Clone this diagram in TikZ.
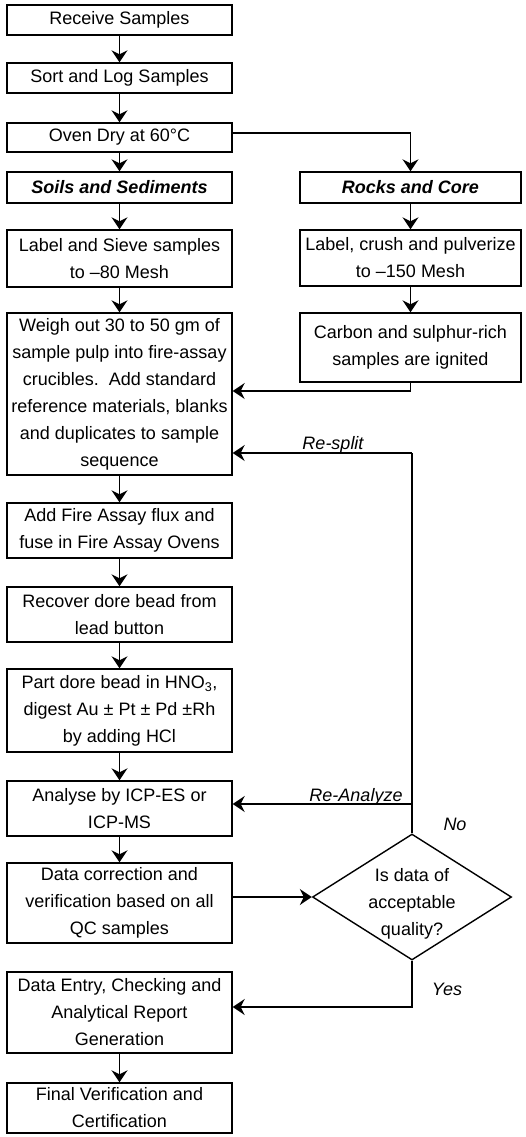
\documentclass[tikz,border=0pt]{standalone}
\usepackage{fontspec}
\setmainfont{Liberation Sans}
\usetikzlibrary{arrows.meta,shapes.geometric}
\newcommand\fs{\fontsize{18}{27}\selectfont}
\tikzset{
  box/.style={draw, line width=1.4pt, inner sep=0pt, minimum width=225pt, align=center, font=\fs},
  rbox/.style={box, minimum width=221pt},
  arr/.style={line width=1.7pt, -{Stealth[length=12pt,width=16pt,inset=4pt]}},
  ln/.style={line width=1.7pt},
  lbl/.style={font=\fs\itshape, inner sep=0pt}
}
\begin{document}
\begin{tikzpicture}[x=1pt,y=-1pt]
\useasboundingbox (0,0) rectangle (526,1137);
% left column
\node[box, minimum height=30pt] (b1) at (119.5,20) {Receive Samples};
\node[box, minimum height=30pt] (b2) at (119.5,78) {Sort and Log Samples};
\node[box, minimum height=29pt] (b3) at (119.5,137.5) {Oven Dry at 60°C};
\node[box, minimum height=31pt, font=\fs\bfseries\itshape] (b4) at (119.5,187.5) {Soils and Sediments};
\node[box, minimum height=57pt] (b5) at (119.5,258.5) {Label and Sieve samples\\to –80 Mesh};
\node[box, minimum height=162pt] (b6) at (119.5,394) {Weigh out 30 to 50 gm of\\sample pulp into fire-assay\\crucibles.\ \ Add standard\\reference materials, blanks\\and duplicates to sample\\sequence};
\node[box, minimum height=55pt] (b7) at (119.5,530.5) {Add Fire Assay flux and\\fuse in Fire Assay Ovens};
\node[box, minimum height=55pt] (b8) at (119.5,614.5) {Recover dore bead from\\lead button};
\node[box, minimum height=83pt] (b9) at (119.5,710.5) {Part dore bead in HNO\textsubscript{3},\\digest Au ± Pt ± Pd ±Rh\\by adding HCl};
\node[box, minimum height=55pt] (b10) at (119.5,808.5) {Analyse by ICP-ES or\\ICP-MS};
\node[box, minimum height=80pt] (b11) at (119.5,903) {Data correction and\\verification based on all\\QC samples};
\node[box, minimum height=81pt] (b12) at (119.5,1012.5) {Data Entry, Checking and\\Analytical Report\\Generation};
\node[box, minimum height=50pt] (b13) at (119.5,1108) {Final Verification and\\Certification};
% right column
\node[rbox, minimum height=31pt, font=\fs\bfseries\itshape] (r1) at (410.5,187.5) {Rocks and Core};
\node[rbox, minimum height=56pt] (r2) at (410.5,258) {Label, crush and pulverize\\to –150 Mesh};
\node[rbox, minimum height=69pt] (r3) at (410.5,347.5) {Carbon and sulphur-rich\\samples are ignited};
% decision
\node[draw, diamond, line width=1.4pt, inner sep=0pt, minimum width=199pt, minimum height=126pt] (d) at (412,897) {};
\node[align=center, font=\fs, inner sep=0pt] (dt) at (412,904) {Is data of\\acceptable\\quality?};
% main flow
\draw[arr] (b1) -- (b2);
\draw[arr] (b2) -- (b3);
\draw[arr] (b3) -- (b4);
\draw[arr] (b4) -- (b5);
\draw[arr] (b5) -- (b6);
\draw[arr] (b6) -- (b7);
\draw[arr] (b7) -- (b8);
\draw[arr] (b8) -- (b9);
\draw[arr] (b9) -- (b10);
\draw[arr] (b10) -- (b11);
\draw[arr] (b12) -- (b13);
\draw[arr] ([yshift=4.5pt]b3.east) -| (r1.north);
\draw[arr] (r1) -- (r2);
\draw[arr] (r2) -- (r3);
\draw[arr] (r3.south) |- ([yshift=3pt]b6.east);
% decision connectors
\draw[arr] (d.west -| b11.east) -- (d.west);
\coordinate (rs) at (412,453);
\coordinate (ra) at (412,804);
\draw[ln] (d.north) -- (rs);
\draw[arr] (rs) -- (rs -| b6.east);
\draw[arr] (ra) -- (ra -| b10.east);
\draw[arr] (d.south) |- ([yshift=5.5pt]b12.east);
% labels
\node[lbl, anchor=base] (lrs) at (333,449) {Re-split};
\node[lbl, anchor=base] (lra) at (356,801) {Re-Analyze};
\node[lbl, anchor=base] (lno) at (455,830) {No};
\node[lbl, anchor=base] (lyes) at (447,995) {Yes};
\end{tikzpicture}
\end{document}
